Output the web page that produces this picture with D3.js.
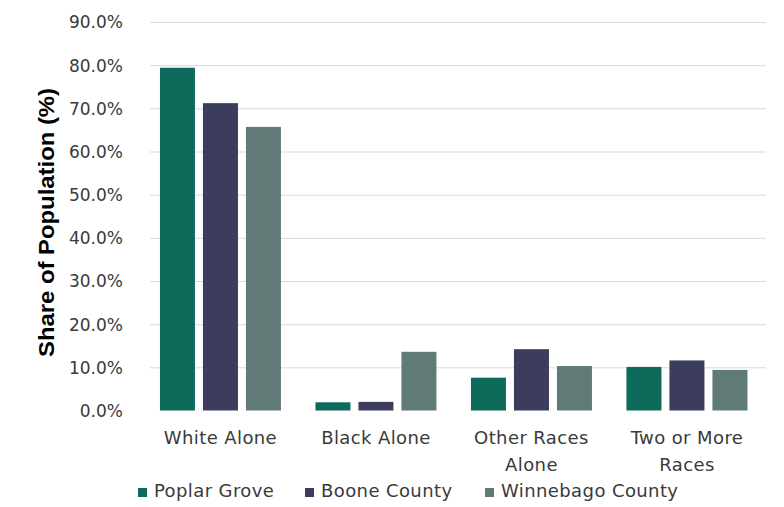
<!DOCTYPE html>
<html>
<head>
<meta charset="utf-8">
<script src="https://cdn.jsdelivr.net/npm/d3@7"></script>
<style>
  html, body { margin: 0; padding: 0; background: #fff; }
  svg { display: block; }
</style>
</head>
<body>
<svg id="chart" width="784" height="507"></svg>
<script>
const categories = ["White Alone", "Black Alone", "Other Races Alone", "Two or More Races"];
const categoryLines = [["White Alone"], ["Black Alone"], ["Other Races", "Alone"], ["Two or More", "Races"]];
const seriesNames = ["Poplar Grove", "Boone County", "Winnebago County"];
const poplarGrove = [79.4, 1.9, 7.6, 10.1];
const booneCounty = [71.2, 2.0, 14.2, 11.6];
const winnebagoCounty = [65.7, 13.6, 10.3, 9.4];
const yTicks = [0, 10, 20, 30, 40, 50, 60, 70, 80, 90];
const colors = ["#0e6b5b", "#3c3c5c", "#5f7a77"];

const seriesValues = [poplarGrove, booneCounty, winnebagoCounty];
const svg = d3.select("#chart");
const labelFont = "'DejaVu Sans', sans-serif";
const textColor = "#3a3a3a";

const x0 = d3.scaleBand().domain(categories).range([142.7, 764.7]).paddingInner(0.222).paddingOuter(0.111);
const x1 = d3.scaleBand().domain(seriesNames).range([0, x0.bandwidth()]).paddingInner(0.186).paddingOuter(0);
const y = d3.scaleLinear().domain([0, 90]).range([410.5, 22]);

// gridlines
const grid = svg.append("g").attr("class", "grid")
  .attr("transform", "translate(150,0)")
  .call(d3.axisLeft(y).tickValues(yTicks.filter(t => t > 0)).tickSize(-616).tickFormat(""));
grid.select(".domain").remove();
grid.selectAll("line").attr("stroke", "#d9d9d9").attr("stroke-width", 1);

// y axis labels
const yAxis = svg.append("g")
  .attr("transform", "translate(123,0)")
  .call(d3.axisLeft(y).tickValues(yTicks).tickSize(0).tickPadding(0).tickFormat(d => d.toFixed(1) + "%"));
yAxis.select(".domain").remove();
yAxis.selectAll("text")
  .attr("font-family", labelFont)
  .attr("font-size", 17)
  .attr("fill", textColor)
  .attr("dy", "0.35em");

// bars
const groups = svg.append("g").selectAll("g")
  .data(categories)
  .join("g")
  .attr("transform", d => `translate(${x0(d)},0)`);
groups.selectAll("rect")
  .data((d, i) => seriesNames.map((s, j) => ({ s, v: seriesValues[j][i], j })))
  .join("rect")
  .attr("x", d => x1(d.s))
  .attr("width", x1.bandwidth())
  .attr("y", d => y(d.v))
  .attr("height", d => y(0) - y(d.v))
  .attr("fill", d => colors[d.j]);

// x axis labels
const xAxis = svg.append("g")
  .attr("transform", "translate(0,410.5)")
  .call(d3.axisBottom(x0).tickSize(0).tickFormat(""));
xAxis.select(".domain").remove();
xAxis.selectAll(".tick").each(function(d, i) {
  const t = d3.select(this).append("text")
    .attr("font-family", labelFont)
    .attr("font-size", 18)
    .attr("letter-spacing", 0.4)
    .attr("fill", textColor)
    .attr("text-anchor", "middle");
  categoryLines[i].forEach((line, k) => {
    t.append("tspan").attr("x", 0).attr("y", 33 + k * 27).text(line);
  });
});

// y title
svg.append("text")
  .attr("transform", "translate(53.5,222.5) rotate(-90)")
  .attr("text-anchor", "middle")
  .attr("font-family", "'Liberation Sans', Arial, sans-serif")
  .attr("font-weight", "bold")
  .attr("font-size", 22)
  .attr("textLength", 269)
  .attr("lengthAdjust", "spacingAndGlyphs")
  .attr("fill", "#000")
  .text("Share of Population (%)");

// legend
const legendX = [138, 305, 485];
const legend = svg.append("g").selectAll("g")
  .data(seriesNames)
  .join("g")
  .attr("transform", (d, i) => `translate(${legendX[i]},492)`);
legend.append("rect")
  .attr("x", 0).attr("y", -4).attr("width", 9).attr("height", 9)
  .attr("fill", (d, i) => colors[i]);
legend.append("text")
  .attr("x", 16).attr("y", 5)
  .attr("font-family", labelFont)
  .attr("font-size", 18)
  .attr("letter-spacing", 0.4)
  .attr("fill", textColor)
  .text(d => d);
</script>
</body>
</html>
